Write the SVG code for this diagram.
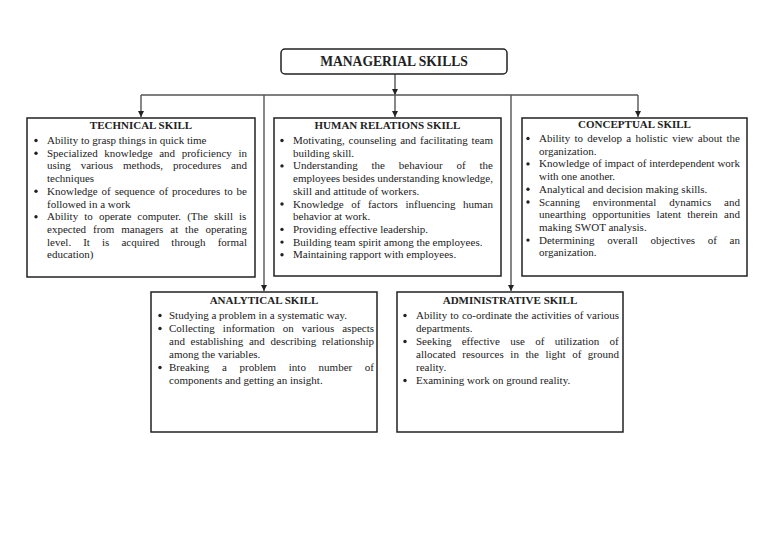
<svg xmlns="http://www.w3.org/2000/svg" width="768" height="544" viewBox="0 0 768 544">
<defs>
<marker id="arr" viewBox="0 0 10 10" refX="10" refY="5" markerWidth="6" markerHeight="6" markerUnits="userSpaceOnUse" orient="auto"><path d="M0,0 L10,5 L0,10 z" fill="#222"/></marker>
<style>
.box{fill:#fff;stroke:#222;stroke-width:1.5}
.t{font-family:"Liberation Serif","Times New Roman",serif;font-size:11px;fill:#222}
.h{font-family:"Liberation Serif","Times New Roman",serif;font-size:11px;font-weight:bold;fill:#222;text-anchor:middle}
.main{font-family:"Liberation Serif","Times New Roman",serif;font-size:13.6px;font-weight:bold;fill:#222;text-anchor:middle}
.c{fill:none;stroke:#555;stroke-width:1.4}
.b{fill:#222}
</style>
</defs>
<rect width="768" height="544" fill="#fff"/>
<g id="connectors">
<path class="c" d="M395,74 V95" marker-end="url(#arr)"/>
<path class="c" d="M141,95 H638"/>
<path class="c" d="M141,95 V117" marker-end="url(#arr)"/>
<path class="c" d="M395,95 V117" marker-end="url(#arr)"/>
<path class="c" d="M638,95 V117" marker-end="url(#arr)"/>
<path class="c" d="M264,95 V291" marker-end="url(#arr)"/>
<path class="c" d="M511,95 V291" marker-end="url(#arr)"/>
</g>
<g id="managerial">
<rect class="box" x="281" y="49" width="226" height="25" rx="4"/>
<text class="main" x="394" y="66">MANAGERIAL SKILLS</text>
</g>
<g id="technical">
<rect class="box" x="27" y="118" width="228" height="159"/>
<text class="h" x="141" y="129">TECHNICAL SKILL</text>
<circle class="b" cx="36" cy="140.5" r="1.7"/>
<circle class="b" cx="36" cy="153.2" r="1.7"/>
<circle class="b" cx="36" cy="191.3" r="1.7"/>
<circle class="b" cx="36" cy="216.7" r="1.7"/>
<text class="t" x="47" y="144">Ability to grasp things in quick time</text>
<text class="t" x="47" y="156.7" word-spacing="3.87">Specialized knowledge and proficiency in</text>
<text class="t" x="47" y="169.4" word-spacing="7.15">using various methods, procedures and</text>
<text class="t" x="47" y="182.1">techniques</text>
<text class="t" x="47" y="194.8" word-spacing="1.16">Knowledge of sequence of procedures to be</text>
<text class="t" x="47" y="207.5">followed in a work</text>
<text class="t" x="47" y="220.2" word-spacing="3.34">Ability to operate computer. (The skill is</text>
<text class="t" x="47" y="232.9" word-spacing="4.14">expected from managers at the operating</text>
<text class="t" x="47" y="245.6" word-spacing="9.33">level. It is acquired through formal</text>
<text class="t" x="47" y="258.3">education)</text>
</g>
<g id="human-relations">
<rect class="box" x="274" y="118" width="227" height="158"/>
<text class="h" x="387.5" y="129">HUMAN RELATIONS SKILL</text>
<circle class="b" cx="282" cy="140.5" r="1.7"/>
<circle class="b" cx="282" cy="165.9" r="1.7"/>
<circle class="b" cx="282" cy="204.0" r="1.7"/>
<circle class="b" cx="282" cy="229.4" r="1.7"/>
<circle class="b" cx="282" cy="242.1" r="1.7"/>
<circle class="b" cx="282" cy="254.8" r="1.7"/>
<text class="t" x="293" y="144" word-spacing="1.19">Motivating, counseling and facilitating team</text>
<text class="t" x="293" y="156.7">building skill.</text>
<text class="t" x="293" y="169.4" word-spacing="11.05">Understanding the behaviour of the</text>
<text class="t" x="293" y="182.1" word-spacing="-0.34">employees besides understanding knowledge,</text>
<text class="t" x="293" y="194.8">skill and attitude of workers.</text>
<text class="t" x="293" y="207.5" word-spacing="4.79">Knowledge of factors influencing human</text>
<text class="t" x="293" y="220.2">behavior at work.</text>
<text class="t" x="293" y="232.9">Providing effective leadership.</text>
<text class="t" x="293" y="245.6">Building team spirit among the employees.</text>
<text class="t" x="293" y="258.3">Maintaining rapport with employees.</text>
</g>
<g id="conceptual">
<rect class="box" x="522" y="118" width="225" height="158"/>
<text class="h" x="634.5" y="128">CONCEPTUAL SKILL</text>
<circle class="b" cx="528" cy="138.5" r="1.7"/>
<circle class="b" cx="528" cy="163.9" r="1.7"/>
<circle class="b" cx="528" cy="189.3" r="1.7"/>
<circle class="b" cx="528" cy="202.0" r="1.7"/>
<circle class="b" cx="528" cy="240.1" r="1.7"/>
<text class="t" x="539" y="142" word-spacing="1.52">Ability to develop a holistic view about the</text>
<text class="t" x="539" y="154.7">organization.</text>
<text class="t" x="539" y="167.4" word-spacing="0.06">Knowledge of impact of interdependent work</text>
<text class="t" x="539" y="180.1">with one another.</text>
<text class="t" x="539" y="192.8">Analytical and decision making skills.</text>
<text class="t" x="539" y="205.5" word-spacing="10.08">Scanning environmental dynamics and</text>
<text class="t" x="539" y="218.2" word-spacing="3.51">unearthing opportunities latent therein and</text>
<text class="t" x="539" y="230.9">making SWOT analysis.</text>
<text class="t" x="539" y="243.6" word-spacing="9.93">Determining overall objectives of an</text>
<text class="t" x="539" y="256.3">organization.</text>
</g>
<g id="analytical">
<rect class="box" x="151" y="292" width="226" height="140"/>
<text class="h" x="264" y="304">ANALYTICAL SKILL</text>
<circle class="b" cx="160" cy="315.5" r="1.7"/>
<circle class="b" cx="160" cy="328.5" r="1.7"/>
<circle class="b" cx="160" cy="367.5" r="1.7"/>
<text class="t" x="169" y="319">Studying a problem in a systematic way.</text>
<text class="t" x="169" y="332" word-spacing="5.27">Collecting information on various aspects</text>
<text class="t" x="169" y="345" word-spacing="2.98">and establishing and describing relationship</text>
<text class="t" x="169" y="358">among the variables.</text>
<text class="t" x="169" y="371" word-spacing="9.9">Breaking a problem into number of</text>
<text class="t" x="169" y="384">components and getting an insight.</text>
</g>
<g id="administrative">
<rect class="box" x="397" y="292" width="226" height="140"/>
<text class="h" x="510" y="304">ADMINISTRATIVE SKILL</text>
<circle class="b" cx="405" cy="315.5" r="1.7"/>
<circle class="b" cx="405" cy="341.5" r="1.7"/>
<circle class="b" cx="405" cy="380.5" r="1.7"/>
<text class="t" x="416" y="319" word-spacing="0.33">Ability to co-ordinate the activities of various</text>
<text class="t" x="416" y="332">departments.</text>
<text class="t" x="416" y="345" word-spacing="7.53">Seeking effective use of utilization of</text>
<text class="t" x="416" y="358" word-spacing="3.8">allocated resources in the light of ground</text>
<text class="t" x="416" y="371">reality.</text>
<text class="t" x="416" y="384">Examining work on ground reality.</text>
</g>
</svg>
